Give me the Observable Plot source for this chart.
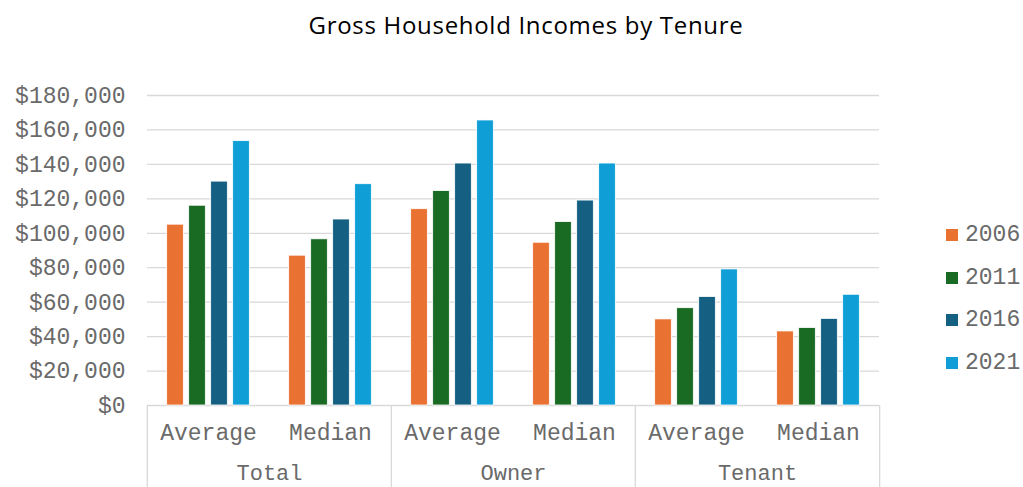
<!DOCTYPE html>
<html>
<head>
<meta charset="utf-8">
<script src="https://cdn.jsdelivr.net/npm/d3@7"></script>
<script src="https://cdn.jsdelivr.net/npm/@observablehq/plot@0.6"></script>
<style>
  body { margin: 0; background: #fff; }
  #wrap { position: relative; width: 1023px; height: 487px; overflow: hidden; background: #fff; }
  #chart { position: absolute; left: 0; top: 0; }
  #title { position: absolute; left: 0; top: 8px; width: 1052px; text-align: center;
           font-family: "Open Sans", sans-serif; font-size: 24px; letter-spacing: 0.7px; color: #000; white-space: nowrap; }
  #legend { position: absolute; left: 946px; top: 214px; font-family: "Liberation Mono", monospace;
            font-size: 23px; color: #6a6a6a; }
  .li { display: flex; align-items: center; height: 42.5px; }
  .sw { width: 12px; height: 12px; margin-right: 7px; }
</style>
</head>
<body>
<div id="wrap">
  <div id="chart"></div>
  <div id="title">Gross Household Incomes by Tenure</div>
  <div id="legend"></div>
</div>
<script>
// ---- data ----
const groups = ["Total", "Owner", "Tenant"];
const measures = ["Average", "Median"];
const years = ["2006", "2011", "2016", "2021"];
const yearColors = ["#E97132", "#196B24", "#156082", "#0F9ED5"];
const yTicks = [0, 20000, 40000, 60000, 80000, 100000, 120000, 140000, 160000, 180000];
// order: Total-Average, Total-Median, Owner-Average, Owner-Median, Tenant-Average, Tenant-Median
const values2006 = [105000, 87000, 114000, 94500, 50000, 43000];
const values2011 = [116000, 96500, 124500, 106500, 56500, 45000];
const values2016 = [130000, 108000, 140500, 119000, 63000, 50300];
const values2021 = [153500, 128500, 165500, 140500, 79000, 64300];

const seriesValues = [values2006, values2011, values2016, values2021];
const rows = [];
years.forEach((yr, yi) => {
  groups.forEach((g, gi) => {
    measures.forEach((m, mi) => {
      rows.push({group: g, measure: m, year: yr, value: seriesValues[yi][gi * 2 + mi]});
    });
  });
});

// ---- layout ----
const W = 1023, H = 487;
const mL = 146, mR = 143, mT = 95, mB = 82;
const bandW = (W - mL - mR) / groups.length / measures.length;
const barW = 17, step = 22;
const inset = (bandW - barW) / 2;
const gridColor = "#d9d9d9";
const textColor = "#6a6a6a";

const chart = Plot.plot({
  width: W, height: H,
  marginLeft: mL, marginRight: mR, marginTop: mT, marginBottom: mB,
  style: {fontFamily: "Liberation Mono, monospace", fontSize: "23px", color: textColor, background: "white", overflow: "visible"},
  fx: {domain: groups, padding: 0, label: null},
  x: {domain: measures, padding: 0, label: null},
  y: {domain: [0, 180000], label: null},
  color: {domain: years, range: yearColors},
  marks: [
    Plot.gridY(yTicks, {stroke: gridColor, strokeOpacity: 1, strokeWidth: 1.3}),
    Plot.axisY(yTicks, {tickSize: 0, tickPadding: 22, label: null,
      tickFormat: d => "$" + d3.format(",")(d), fill: textColor}),
    ...years.map((yr, i) => Plot.barY(rows.filter(d => d.year === yr), {
      fx: "group", x: "measure", y: "value", fill: "year",
      stroke: "white", strokeWidth: 0.8,
      insetLeft: inset, insetRight: inset, dx: (i - 1.5) * step
    })),
    Plot.axisX({tickSize: 0, tickPadding: 18, label: null, fill: textColor}),
    Plot.axisFx({anchor: "bottom", tickSize: 0, tickPadding: 59, label: null, fill: textColor, fontSize: 22}),
    Plot.ruleX(groups.map(g => ({group: g, measure: measures[0]})), {
      fx: "group", x: "measure", dx: -bandW / 2, stroke: gridColor, strokeWidth: 1.3,
      insetTop: H - mT - mB, insetBottom: -mB
    }),
    Plot.ruleX([{group: groups[groups.length - 1], measure: measures[measures.length - 1]}], {
      fx: "group", x: "measure", dx: bandW / 2, stroke: gridColor, strokeWidth: 1.3,
      insetTop: H - mT - mB, insetBottom: -mB
    })
  ]
});
document.getElementById("chart").appendChild(chart);

const legend = document.getElementById("legend");
years.forEach((yr, i) => {
  const li = document.createElement("div");
  li.className = "li";
  const sw = document.createElement("span");
  sw.className = "sw";
  sw.style.background = yearColors[i];
  const t = document.createElement("span");
  t.textContent = yr;
  li.appendChild(sw);
  li.appendChild(t);
  legend.appendChild(li);
});
</script>
</body>
</html>
